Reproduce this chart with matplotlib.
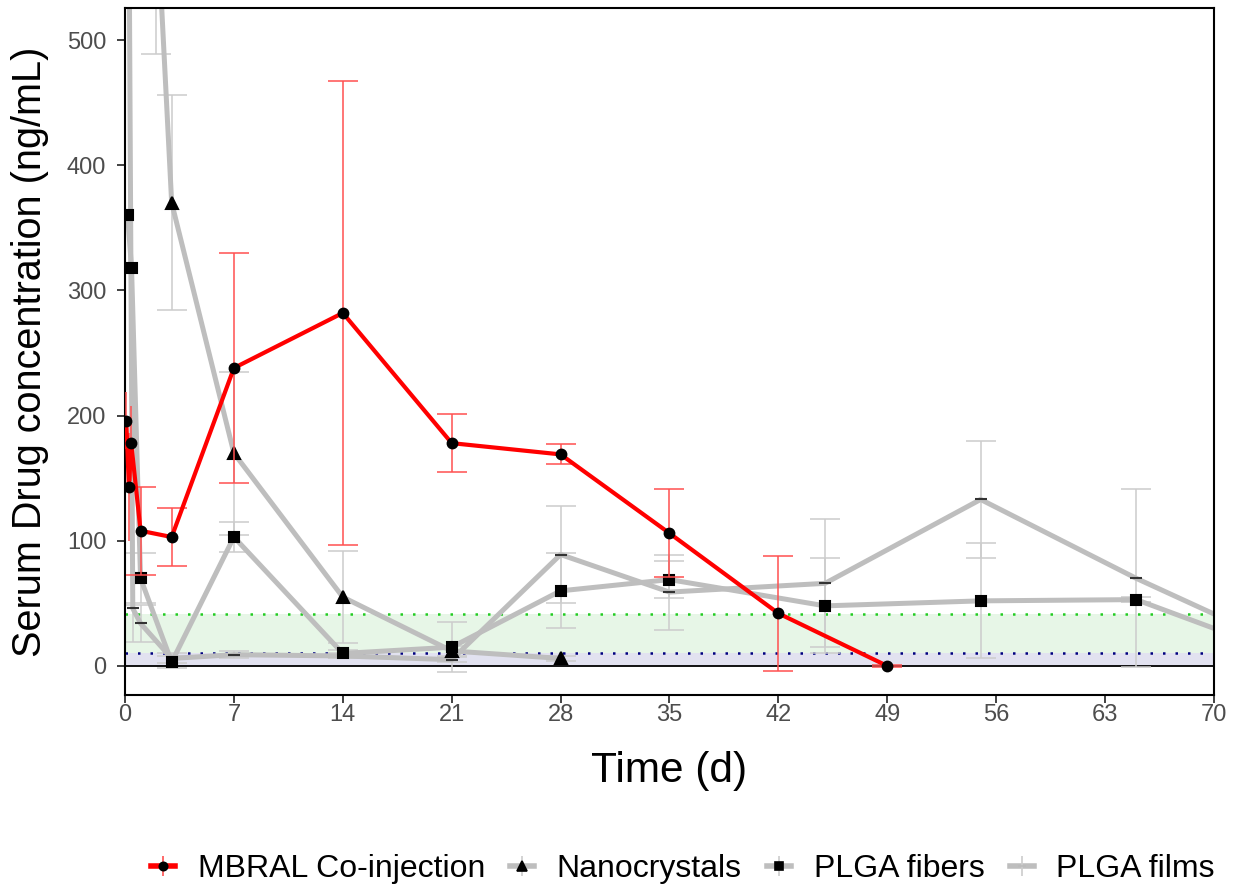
import matplotlib
matplotlib.use("Agg")
import matplotlib.pyplot as plt
from matplotlib.lines import Line2D
import numpy as np

plt.rcParams['font.family'] = ['Liberation Sans', 'DejaVu Sans']

# Serum drug concentration (ng/mL) over time (days), mean and SD per formulation
mbral_t = [0.08, 0.25, 0.4, 1, 3, 7, 14, 21, 28, 35, 42, 49]
mbral_conc = [196, 143, 178, 108, 103, 238, 282, 178, 169, 106, 42, 0]
mbral_sd = [23, 43, 30, 35, 23, 92, 185, 23, 8, 35, 46, 1]

nano_t = [2, 3, 7, 14, 21, 28]
nano_conc = [613, 370, 170, 55, 12, 6]
nano_sd = [124, 86, 65, 37, 4, 2]

fiber_t = [0.17, 0.42, 1, 3, 7, 14, 21, 28, 35, 45, 55, 65, 75]
fiber_conc = [360, 318, 70, 3, 103, 10, 15, 60, 69, 48, 52, 53, 7]
fiber_sd = [0, 0, 20, 5, 12, 3, 20, 30, 15, 38, 46, 2, 2]

film_t = [0.08, 0.5, 1, 3, 7, 14, 21, 28, 35, 45, 55, 65, 75]
film_conc = [1000, 46, 34, 6, 9, 8, 5, 89, 59, 66, 133, 70, 13]
film_sd = [200, 27, 15, 4, 3, 2, 2, 39, 30, 51, 47, 71, 5]

# Therapeutic window limits (ng/mL)
lower_limit = 10.4
upper_limit = 41.5

x_ticks = [0, 7, 14, 21, 28, 35, 42, 49, 56, 63, 70]
y_ticks = [0, 100, 200, 300, 400, 500]

labels = ["MBRAL Co-injection", "Nanocrystals", "PLGA fibers", "PLGA films"]

RED = '#ff0000'
RED_ERR = '#ff5050'
GRAY = '#bebebe'
GRAY_ERR = '#cccccc'

fig = plt.figure(figsize=(12.44, 8.90), dpi=100)
ax = fig.add_axes([125 / 1244, 1 - 695 / 890, (1214 - 125) / 1244, (695 - 8) / 890])

ax.axhspan(0, lower_limit, color='#e2e2f0', lw=0, zorder=0)
ax.axhspan(lower_limit, upper_limit, color='#e7f6e7', lw=0, zorder=0)
ax.axhline(upper_limit, color='#22cc22', ls=(0, (1, 4)), lw=1.8, zorder=1)
ax.axhline(lower_limit, color='#000080', ls=(0, (1, 4)), lw=1.8, zorder=1)
ax.axhline(0, color='black', lw=1.3, zorder=1)


def draw_series(t, c, sd, line_color, ecolor, marker, ms, lw, z, mcolor='black'):
    t = np.asarray(t, float)
    c = np.asarray(c, float)
    sd = np.asarray(sd, float)
    early = t < 0.9
    # error bars: capless for the first hours, capped afterwards
    ax.errorbar(t[early], c[early], yerr=sd[early], fmt='none', ecolor=ecolor,
                elinewidth=1.1, capsize=0, zorder=z)
    ax.errorbar(t[~early], c[~early], yerr=sd[~early], fmt='none', ecolor=ecolor,
                elinewidth=1.1, capsize=11, capthick=1.1, zorder=z)
    ax.plot(t, c, color=line_color, lw=lw, zorder=z + 0.5)
    ax.plot(t, c, ls='none', marker=marker, markersize=ms, markerfacecolor=mcolor,
            markeredgecolor=mcolor, markeredgewidth=1.5, zorder=z + 1)


draw_series(film_t, film_conc, film_sd, GRAY, GRAY_ERR, '_', 8, 3.6, 2, mcolor='#333333')
draw_series(fiber_t, fiber_conc, fiber_sd, GRAY, GRAY_ERR, 's', 7.5, 3.6, 2)
draw_series(nano_t, nano_conc, nano_sd, GRAY, GRAY_ERR, '^', 8.5, 3.6, 2)
draw_series(mbral_t, mbral_conc, mbral_sd, RED, RED_ERR, 'o', 7, 3.0, 5)

ax.set_xlim(0, 70)
ax.set_ylim(-23.2, 525.6)
ax.set_xticks(x_ticks)
ax.set_yticks(y_ticks)
ax.tick_params(axis='both', which='major', labelsize=17, labelcolor='#4d4d4d',
               color='#333333', length=5.5, width=1.3, direction='out')
ax.tick_params(axis='y', pad=8)
ax.tick_params(axis='x', pad=1)
for s in ax.spines.values():
    s.set_linewidth(1.5)
    s.set_color('black')

ax.set_xlabel("Time (d)", fontsize=30.5, labelpad=18)
ax.set_ylabel("Serum Drug concentration (ng/mL)", fontsize=28.5, labelpad=13)


def legend_handle(line_color, ecolor, marker, ms, mcolor='black'):
    return (Line2D([], [], color=line_color, lw=4),
            Line2D([], [], ls='none', marker='|', markersize=15, markeredgewidth=1.2,
                   color=ecolor),
            Line2D([], [], ls='none', marker=marker, markersize=ms,
                   markerfacecolor=mcolor, markeredgecolor=mcolor, markeredgewidth=1.2))


handles = [legend_handle(RED, RED_ERR, 'o', 6),
           legend_handle(GRAY, GRAY_ERR, '^', 6.5),
           legend_handle(GRAY, GRAY_ERR, 's', 6),
           legend_handle(GRAY, GRAY_ERR, '_', 6, mcolor='#bbbbbb')]

fig.legend(handles, labels, loc='center',
           bbox_to_anchor=(683 / 1244, 1 - 869 / 890), ncol=4, frameon=False,
           fontsize=23, handlelength=0.75, handletextpad=0.7, columnspacing=0.8)

fig.savefig("out.png", dpi=100)
